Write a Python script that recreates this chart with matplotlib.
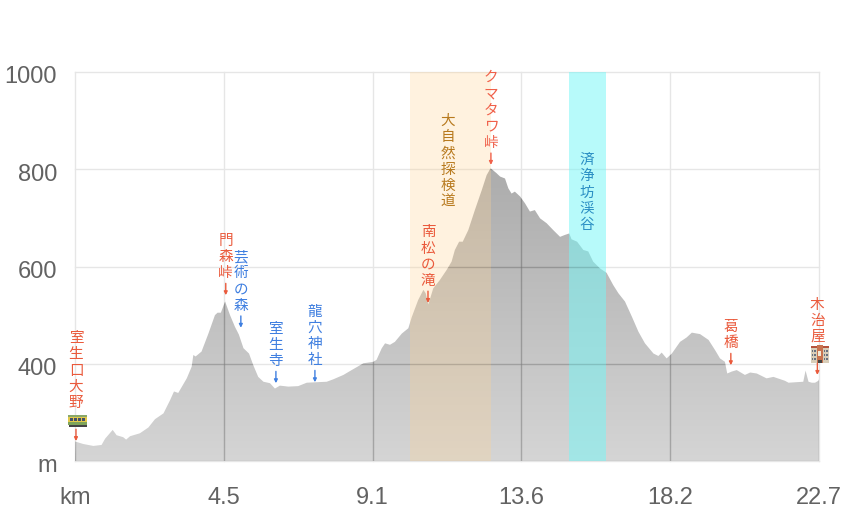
import numpy as np
import matplotlib
matplotlib.use('Agg')
import matplotlib.pyplot as plt
from matplotlib.patches import Rectangle, Polygon
from matplotlib.transforms import IdentityTransform, ScaledTranslation

plt.rcParams['font.family'] = ['Liberation Sans', 'DejaVu Sans']
JP = ['Noto Sans CJK JP', 'DejaVu Sans']

# elevation profile
km = [0.0, 0.01, 0.25, 0.56, 0.81, 0.92, 1.15, 1.27, 1.47, 1.56, 1.68, 1.98, 2.24, 2.44, 2.70, 2.90, 3.02, 3.15,
      3.41, 3.56, 3.61, 3.68, 3.86, 4.07, 4.27, 4.35, 4.45, 4.58, 4.73, 4.88, 5.00, 5.14, 5.31, 5.44, 5.59, 5.75,
      5.95, 6.10, 6.25, 6.51, 6.81, 7.07, 7.37, 7.68, 7.88, 8.19, 8.39, 8.80, 9.10, 9.20, 9.36, 9.46, 9.61, 9.76,
      9.97, 10.17, 10.27, 10.47, 10.63, 10.70, 10.78, 10.93, 11.13, 11.34, 11.49, 11.59, 11.72, 11.83, 12.00, 12.20,
      12.41, 12.56, 12.68, 12.86, 12.97, 13.12, 13.22, 13.32, 13.42, 13.58, 13.73, 13.88, 14.03, 14.19, 14.39, 14.59,
      14.80, 14.95, 15.08, 15.15, 15.32, 15.51, 15.66, 15.81, 16.02, 16.22, 16.42, 16.58, 16.78, 16.99, 17.19, 17.39,
      17.65, 17.80, 17.90, 18.05, 18.21, 18.46, 18.66, 18.82, 19.07, 19.33, 19.53, 19.68, 19.83, 19.90, 20.04, 20.19,
      20.44, 20.60, 20.80, 21.10, 21.31, 21.66, 21.77, 22.22, 22.29, 22.38, 22.48, 22.58, 22.68, 22.70]
elev = [200, 240, 235, 231, 233, 246, 264, 253, 249, 244, 251, 257, 269, 286, 298, 325, 343, 340,
        370, 394, 418, 415, 425, 462, 500, 505, 505, 528, 500, 476, 460, 432, 421, 397, 373, 363,
        360, 349, 355, 353, 354, 361, 362, 363, 368, 377, 385, 401, 404, 408, 432, 442, 439, 445,
        462, 473, 495, 531, 552, 545, 522, 555, 572, 593, 610, 634, 651, 651, 675, 716,
        757, 788, 802, 792, 785, 781, 761, 750, 754, 744, 730, 713, 716, 699, 689, 675,
        661, 665, 668, 656, 651, 634, 631, 610, 596, 587, 562, 545, 528, 497, 466, 442,
        421, 416, 423, 411, 421, 445, 454, 464, 461, 449, 428, 411, 404, 380, 384, 387,
        377, 382, 380, 370, 373, 365, 361, 363, 386, 363, 361, 361, 365, 368]

x_ticks = [0, 4.54, 9.08, 13.62, 18.16, 22.7]
x_labels = ['km', '4.5', '9.1', '13.6', '18.2', '22.7']
y_ticks = [200, 400, 600, 800, 1000]
y_labels = ['m', '400', '600', '800', '1000']

# place name, km, elevation at arrow tip, colour, icon
RED = '#ea5a3c'
BLUE = '#3f7fe0'
places = [
    ('室生口大野', 0.03, 241, RED, 'train'),
    ('門森峠', 4.60, 541, RED, None),
    ('芸術の森', 5.06, 474, BLUE, None),
    ('室生寺', 6.13, 360, BLUE, None),
    ('龍穴神社', 7.32, 362, BLUE, None),
    ('南松の滝', 10.77, 525, RED, None),
    ('クマタワ峠', 12.69, 809, '#f0604a', None),
    ('葛橋', 20.01, 397, RED, None),
    ('木治屋', 22.65, 377, RED, 'hotel'),
]

# section name, start, end, colour, rgba of band, label km, label top elevation
sections = [
    ('大自然探検道', 10.22, 12.69, '#b87a1e', (1.0, 0.83, 0.59, 0.30), 11.38, 899),
    ('済浄坊渓谷', 15.08, 16.21, '#2b8fc4', (0.46, 0.97, 0.97, 0.52), 15.62, 819),
]

W, H = 848, 516
fig = plt.figure(figsize=(W / 100, H / 100), dpi=100)
ax = fig.add_axes([75 / W, 1 - 461 / H, 744 / W, 389 / H])
ax.set_xticks(x_ticks, x_labels)
ax.set_yticks(y_ticks, y_labels)
ax.tick_params(length=0, labelsize=17, labelcolor='#626262')
ax.tick_params(axis='x', pad=19)
ax.tick_params(axis='y', pad=13)
for s in ax.spines.values():
    s.set_visible(False)
ax.grid(True, color='#e6e6e6', linewidth=1, zorder=1, clip_on=False)
ax.set_axisbelow(True)
# y labels sit a little lower than the gridlines
for lab in ax.get_yticklabels():
    lab.set_transform(lab.get_transform() + ScaledTranslation(0, -2 / 72, fig.dpi_scale_trans))

# grey fill, darker to the top
grad = np.zeros((256, 2, 4))
grad[..., 3] = np.linspace(0.38, 0.17, 256)[:, None]
im = ax.imshow(grad, extent=[0, 22.7, 200, 1000], origin='upper', aspect='auto', zorder=2)
poly = Polygon(list(zip(km, elev)) + [(22.7, 200)], transform=ax.transData, facecolor='none', edgecolor='none')
ax.add_patch(poly)
im.set_clip_path(poly)
ax.set_xlim(0, 22.7)
ax.set_ylim(200, 1000)

for name, x0, x1, col, band, lx, ly in sections:
    ax.axvspan(x0, x1, color=band, linewidth=0, zorder=3)

# grid shows through the fill only
for t in x_ticks:
    ln = ax.axvline(t, color=(0, 0, 0, 0.13), linewidth=1, zorder=4)
    ln.set_clip_path(poly)
for t in y_ticks[1:-1]:
    ln = ax.axhline(t, color=(0, 0, 0, 0.10), linewidth=1, zorder=4)
    ln.set_clip_path(poly)


def stack(name, x, y, col, start):
    # vertical text, last character sits lowest
    n = len(name)
    for i, ch in enumerate(name):
        ax.annotate(ch, xy=(x, y), xytext=(0, (start + (n - 1 - i) * 16.2) * 0.72), textcoords='offset points',
                    ha='center', va='center', fontsize=10.5, color=col, family=JP, zorder=6)


def icon(kind, cx, cy):
    T = IdentityTransform()
    def box(dx, dy, w, h, c):
        ax.add_artist(Rectangle((cx + dx, cy + dy), w, h, transform=T, facecolor=c, edgecolor='none',
                                zorder=7, clip_on=False))
    if kind == 'train':
        box(-9.5, -5, 19, 10, '#e3c94a')
        box(-9.5, -5, 19, 3, '#7fa45a')
        box(-9.5, 3, 19, 2, '#8aa86a')
        for dx in range(-8, 8, 4):
            box(dx, -1, 3, 3.5, '#44506a')
        box(-9, -7, 18, 2, '#444444')
    else:
        box(-9, -9, 18, 16, '#d8cdb8')
        box(-9, 6, 18, 2, '#b5533c')
        box(-3, -9, 6, 18, '#c8734f')
        box(-1.5, -2, 3, 5, '#f2ead8')
        for dx in (-8, -5.5, 4, 6.5):
            for dy in (-6, -2, 2):
                box(dx, dy, 1.6, 2.2, '#667080')
        box(-2, -9, 4, 3, '#444444')


for name, x, y, col, ic in places:
    ax.annotate('', xy=(x, y), xytext=(0, 8.5), textcoords='offset points',
                arrowprops=dict(arrowstyle='-|>', color=col, lw=1, mutation_scale=5, shrinkA=0, shrinkB=0), zorder=6)
    if ic:
        stack(name, x, y, col, 38)
        px, py = ax.transData.transform((x, y))
        icon(ic, px + (2 if ic == 'train' else 2.5), py + 21)
    else:
        stack(name, x, y, col, 22)

for name, x0, x1, col, band, lx, ly in sections:
    # stack() counts up from the anchor, so start low enough that the first character is at ly
    stack(name, lx, ly, col, -(len(name) - 1) * 16.2)

fig.savefig('out.png', dpi=100)
